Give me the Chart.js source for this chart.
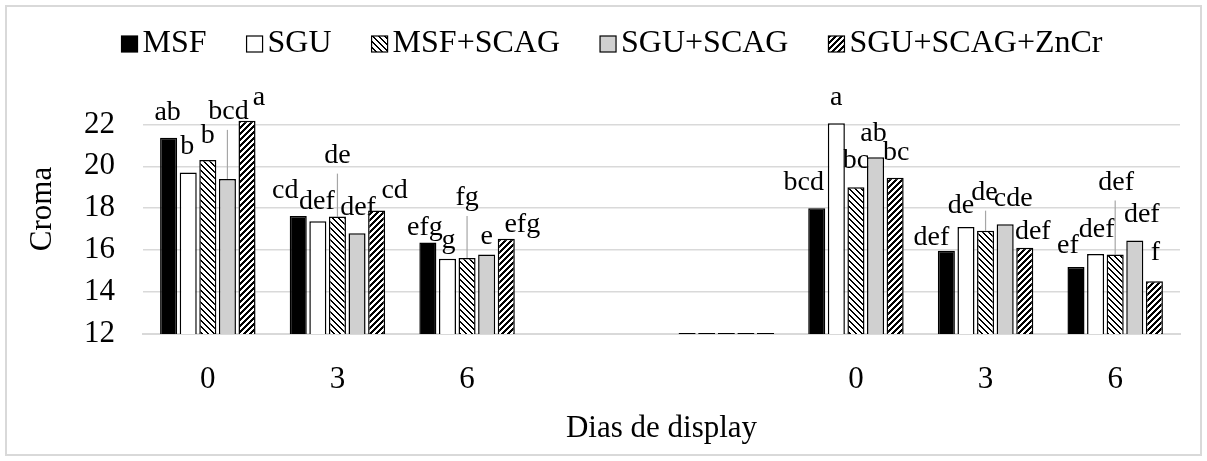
<!DOCTYPE html>
<html>
<head>
<meta charset="utf-8">
<script src="https://cdn.jsdelivr.net/npm/chart.js@4/dist/chart.umd.min.js"></script>
<style>
  body { margin: 0; background: #fff; }
  #wrap { position: relative; width: 1207px; height: 461px; }
  #frame { position: absolute; left: 5px; top: 5px; width: 1193px; height: 447px; border: 2px solid #d9d9d9; pointer-events: none; }
</style>
</head>
<body>
<div id="wrap">
  <canvas id="chart"></canvas>
  <div id="frame"></div>
</div>
<script>
// days of display, two groups separated by two empty slots
const categories = ['0', '3', '6', '', '', '0', '3', '6']

const msf     = [21.36, 17.63, 16.36, null, 12.05, 18.00, 15.97, 15.20]
const sgu     = [19.70, 17.38, 15.59, null, 12.05, 22.05, 17.10, 15.82]
const msfScag = [20.30, 17.60, 15.63, null, 12.05, 19.00, 16.93, 15.79]
const sguScag = [19.40, 16.81, 15.79, null, 12.05, 20.43, 17.24, 16.46]
const sguZnCr = [22.17, 17.89, 16.55, null, 12.05, 19.46, 16.12, 14.52]

// significance letters above the bars
const lettersMsf     = ['ab', 'cd', 'efg', '', '', 'bcd', 'def', 'ef']
const lettersSgu     = ['b', 'def', 'g', '', '', 'a', 'de', 'def']
const lettersMsfScag = ['b', 'de', 'fg', '', '', 'bc', 'de', 'def']
const lettersSguScag = ['bcd', 'def', 'e', '', '', 'ab', 'cde', 'def']
const lettersZnCr    = ['a', 'cd', 'efg', '', '', 'bc', 'def', 'f']

const yTicks = [12, 14, 16, 18, 20, 22]

// label nudges from the bar top: [dx, dy to baseline, leader line]
const labelNudge = [
  [[-1, -18], [-13, -18], [-3, -8], null, null, [-13, -18], [-15, -6], [-8, -14]],
  [[-1, -19], [-1, -12], [1, -11], null, null, [0, -18], [-5, -14], [1, -17]],
  [[0, -17], [0, -54, true], [0, -53, true], null, null, [0, -19], [-1, -31, true], [1, -65, true]],
  [[1, -60, true], [1, -18], [0, -11], null, null, [-2, -16], [8, -18], [7, -19]],
  [[12, -16], [18, -13], [16, -7], null, null, [1, -18], [8, -9], [1, -21]],
]

function makePattern(test) {
  const size = 6
  const c = document.createElement('canvas')
  c.width = size
  c.height = size
  const g = c.getContext('2d')
  g.fillStyle = '#fff'
  g.fillRect(0, 0, size, size)
  g.fillStyle = '#000'
  for (let x = 0; x < size; x++) {
    for (let y = 0; y < size; y++) {
      if (test(x, y, size)) g.fillRect(x, y, 1, 1)
    }
  }
  return g.createPattern(c, 'repeat')
}

const downDiag = makePattern((x, y, n) => ((x - y + n) % n) < 2)
const upDiag = makePattern((x, y, n) => ((x + y) % n) < 3)

const serif = 'Liberation Serif'

const letterPlugin = {
  id: 'letters',
  beforeDatasetsDraw(chart) {
    const ctx = chart.ctx
    const all = [lettersMsf, lettersSgu, lettersMsfScag, lettersSguScag, lettersZnCr]
    ctx.save()
    ctx.font = `28px "${serif}"`
    ctx.textAlign = 'center'
    ctx.textBaseline = 'alphabetic'
    all.forEach((letters, i) => {
      const bars = chart.getDatasetMeta(i).data
      letters.forEach((txt, j) => {
        if (!txt) return
        const [dx, dy, leader] = labelNudge[i][j]
        const bar = bars[j]
        const base = bar.y + dy
        if (leader) {
          ctx.strokeStyle = '#a6a6a6'
          ctx.lineWidth = 1.2
          ctx.beginPath()
          ctx.moveTo(bar.x, base + 11)
          ctx.lineTo(bar.x, bar.y)
          ctx.stroke()
        }
        ctx.fillStyle = '#000'
        ctx.fillText(txt, bar.x + dx, base)
      })
    })
    ctx.restore()
  },
  afterDraw(chart) {
    const ctx = chart.ctx
    ctx.save()

    // y axis title, centred the way the original sits
    ctx.translate(42.5, 209)
    ctx.rotate(-Math.PI / 2)
    ctx.font = `31px "${serif}"`
    ctx.fillStyle = '#000'
    ctx.textAlign = 'center'
    ctx.textBaseline = 'middle'
    ctx.fillText('Croma', 0, 0)
    ctx.setTransform(1, 0, 0, 1, 0, 0)

    // legend row: small box tight against its text
    ctx.font = `32px "${serif}"`
    ctx.textAlign = 'left'
    const box = 16, gap = 5, spacing = 40, cy = 44
    const items = chart.data.datasets.map((ds) => ({ ds, w: ctx.measureText(ds.label).width }))
    const total = items.reduce((s, it) => s + box + gap + it.w, 0) + spacing * (items.length - 1)
    let x = 612 - total / 2
    items.forEach(({ ds, w }) => {
      ctx.fillStyle = ds.backgroundColor
      ctx.fillRect(x, cy - box / 2, box, box)
      ctx.strokeStyle = ds.borderColor
      ctx.lineWidth = 1.2
      ctx.strokeRect(x, cy - box / 2, box, box)
      ctx.fillStyle = '#000'
      ctx.fillText(ds.label, x + box + gap, cy)
      x += box + gap + w + spacing
    })
    ctx.restore()
  },
}

const bar = (label, data, fill) => ({
  label,
  data,
  backgroundColor: fill,
  borderColor: '#000',
  borderWidth: 1.5,
  categoryPercentage: 0.756,
  barPercentage: 0.87,
})

new Chart(document.getElementById('chart'), {
  type: 'bar',
  data: {
    labels: categories,
    datasets: [
      bar('MSF', msf, '#000'),
      bar('SGU', sgu, '#fff'),
      bar('MSF+SCAG', msfScag, downDiag),
      bar('SGU+SCAG', sguScag, '#d0d0d0'),
      bar('SGU+SCAG+ZnCr', sguZnCr, upDiag),
    ],
  },
  plugins: [letterPlugin],
  options: {
    responsive: true,
    maintainAspectRatio: false,
    animation: false,
    layout: {
      padding: { left: 0, right: 27, top: 0, bottom: 0 },
    },
    plugins: {
      tooltip: { enabled: false },
      legend: { display: false },
    },
    scales: {
      x: {
        grid: { display: false, drawTicks: false },
        border: { display: true, color: '#d9d9d9', width: 2 },
        ticks: {
          color: '#000',
          font: { family: serif, size: 31 },
          padding: 27,
        },
        title: {
          display: true,
          text: 'Dias de display',
          color: '#000',
          font: { family: serif, size: 31 },
          padding: { top: 4, bottom: 14 },
        },
        afterFit: (s) => { s.height = 127 },
      },
      xTop: {
        type: 'category',
        position: 'top',
        grid: { display: false, drawTicks: false },
        border: { display: false },
        ticks: { display: false },
        afterFit: (s) => { s.height = 116 },
      },
      y: {
        min: 12,
        max: 22.4,
        afterBuildTicks: (axis) => {
          axis.ticks = yTicks.map((v) => ({ value: v }))
        },
        grid: { color: '#d9d9d9', lineWidth: 1.5, drawTicks: false },
        border: { display: false },
        ticks: {
          color: '#000',
          font: { family: serif, size: 31 },
          padding: 28,
        },
        afterFit: (s) => { s.width = 143 },
      },
    },
  },
})
</script>
</body>
</html>
